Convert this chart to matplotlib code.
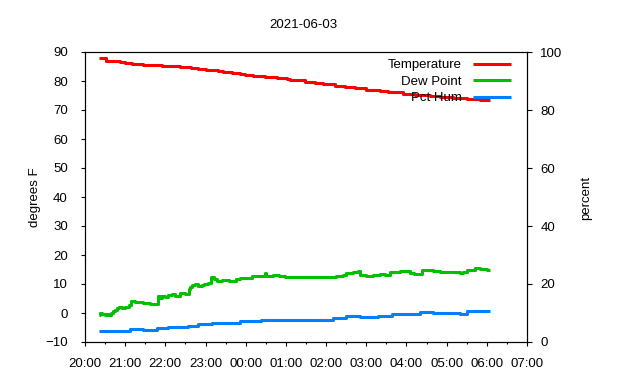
# overnight weather log, 2021-06-03
import numpy as np
import matplotlib
matplotlib.use('Agg')
import matplotlib.pyplot as plt
import matplotlib.dates as mdates
import pandas as pd

plt.rcParams['font.family'] = ['Liberation Sans', 'DejaVu Sans']
plt.rcParams['font.size'] = 9.5

# temperature (degrees F), value holds until next time
temp_times = ['20:21', '20:32', '20:52', '20:59', '21:10', '21:27', '21:55', '22:22',
              '22:38', '22:49', '23:00', '23:18', '23:26', '23:39', '23:52', '23:59',
              '00:11', '00:29', '00:46', '01:01', '01:06', '01:28', '01:43', '01:56',
              '02:13', '02:28', '02:43', '03:00', '03:20', '03:33', '03:55', '04:13',
              '04:35', '04:50', '05:10', '05:30', '05:50', '06:05']
temp_vals = [87.8, 87.0, 86.7, 86.3, 86.0, 85.6, 85.3, 84.9,
             84.6, 84.2, 83.9, 83.6, 83.2, 82.9, 82.5, 82.2,
             81.8, 81.5, 81.1, 80.6, 80.2, 79.8, 79.3, 78.9,
             78.4, 77.9, 77.5, 77.0, 76.6, 76.1, 75.6, 75.2,
             74.8, 74.4, 74.0, 73.8, 73.4, 73.4]

# dew point (degrees F)
dew_times = ['20:21', '20:23', '20:25', '20:28', '20:30', '20:33', '20:36', '20:39',
             '20:42', '20:45', '20:48', '20:51', '20:55', '21:00', '21:05', '21:08',
             '21:15', '21:27', '21:37', '21:48', '21:49', '21:52', '21:55', '22:00',
             '22:04', '22:10', '22:15', '22:22', '22:29', '22:35', '22:37', '22:40',
             '22:44', '22:48', '22:54', '22:58', '23:04', '23:08', '23:12', '23:17',
             '23:25', '23:35', '23:45', '23:51', '00:00', '00:09', '00:20', '00:28',
             '00:29', '00:30', '00:40', '00:50', '00:59', '01:30', '02:00', '02:15',
             '02:25', '02:30', '02:40', '02:48', '02:50', '03:00', '03:10', '03:20',
             '03:28', '03:35', '03:50', '04:05', '04:12', '04:15', '04:23', '04:32',
             '04:40', '04:50', '05:05', '05:20', '05:25', '05:30', '05:42', '05:50',
             '05:55', '06:00', '06:05']
dew_vals = [-0.6, 0.0, -0.4, -0.3, -0.8, -0.2, -0.7, 0.0,
            0.6, 1.1, 1.6, 1.9, 1.7, 2.0, 2.6, 4.0,
            3.9, 3.4, 3.0, 3.2, 5.7, 5.2, 5.9, 5.6,
            6.1, 6.4, 6.0, 7.0, 6.6, 8.2, 9.1, 9.7,
            10.0, 9.3, 9.5, 10.1, 10.4, 12.3, 11.6, 11.2,
            11.5, 11.1, 11.8, 12.0, 12.2, 12.7, 12.9, 12.6,
            13.8, 12.8, 13.0, 12.6, 12.4, 12.5, 12.4, 12.6,
            13.2, 13.9, 14.1, 14.4, 13.0, 12.8, 13.1, 13.5,
            13.2, 14.2, 14.4, 13.8, 13.3, 13.6, 14.8, 15.0,
            14.6, 14.0, 14.2, 13.7, 14.2, 14.8, 15.4, 15.1,
            15.3, 14.9, 15.0]

# relative humidity (percent, right axis)
hum_times = ['20:21', '20:42', '21:07', '21:27', '21:47', '22:04', '22:34', '22:49',
             '23:09', '23:51', '00:23', '02:11', '02:30', '02:50', '03:18', '03:38',
             '04:20', '04:40', '05:20', '05:30', '06:05']
hum_vals = [3.7, 3.9, 4.5, 4.1, 4.9, 5.3, 5.6, 6.1,
            6.7, 7.2, 7.7, 8.2, 8.9, 8.7, 9.0, 9.7,
            10.2, 9.9, 9.8, 10.6, 10.6]


def to_dt(times):
    out = []
    for t in times:
        day = '2021-06-02' if int(t[:2]) >= 12 else '2021-06-03'
        out.append(pd.Timestamp(day + ' ' + t))
    return out


fig = plt.figure(figsize=(6.4, 3.8), dpi=100)
ax1 = fig.add_axes([85/640, 38/380, 442/640, 290/380])
ax2 = ax1.twinx()

l1, = ax1.plot(to_dt(temp_times), temp_vals, drawstyle='steps-post', color='#ff0000',
               lw=2.2, solid_capstyle='butt', label='Temperature')
l2, = ax1.plot(to_dt(dew_times), dew_vals, drawstyle='steps-post', color='#00c000',
               lw=2.2, solid_capstyle='butt', label='Dew Point')
l3, = ax2.plot(to_dt(hum_times), hum_vals, drawstyle='steps-post', color='#0080ff',
               lw=2.2, solid_capstyle='butt', label='Pct Hum')

ax1.set_xlim(pd.Timestamp('2021-06-02 20:00'), pd.Timestamp('2021-06-03 07:00'))
ax1.set_ylim(-10, 90)
ax1.set_yticks(np.arange(-10, 91, 10))
ax2.set_ylim(0, 100)
ax2.set_yticks(np.arange(0, 101, 20))

ax1.xaxis.set_major_locator(mdates.HourLocator())
ax1.xaxis.set_minor_locator(mdates.MinuteLocator(byminute=[30]))
ax1.xaxis.set_major_formatter(mdates.DateFormatter('%H:%M'))

for ax in (ax1, ax2):
    for s in ax.spines.values():
        s.set_linewidth(0.8)
ax1.tick_params(axis='y', direction='out', length=3.2, width=0.8, pad=9.2)
ax2.tick_params(axis='y', direction='out', length=3.6, width=0.8, pad=6)
ax1.tick_params(axis='x', which='major', direction='out', length=2.8, width=0.8, pad=9)
ax1.tick_params(axis='x', which='minor', direction='out', length=1.6, width=0.8)

fig.text(303/640, 1 - 25/380, '2021-06-03', ha='center', va='center')
fig.text(35/640, 1 - 197/380, 'degrees F', rotation=90, ha='center', va='center')
fig.text(586/640, 1 - 198/380, 'percent', rotation=90, ha='center', va='center')

fig.legend([l1, l2, l3], ['Temperature', 'Dew Point', 'Pct Hum'], loc='upper right',
           bbox_to_anchor=(511/640, 1 - 59/380), markerfirst=False, frameon=False,
           borderpad=0, borderaxespad=0, handlelength=2.85, handletextpad=0.9,
           labelspacing=0.32)

fig.savefig('out.png', dpi=100)
